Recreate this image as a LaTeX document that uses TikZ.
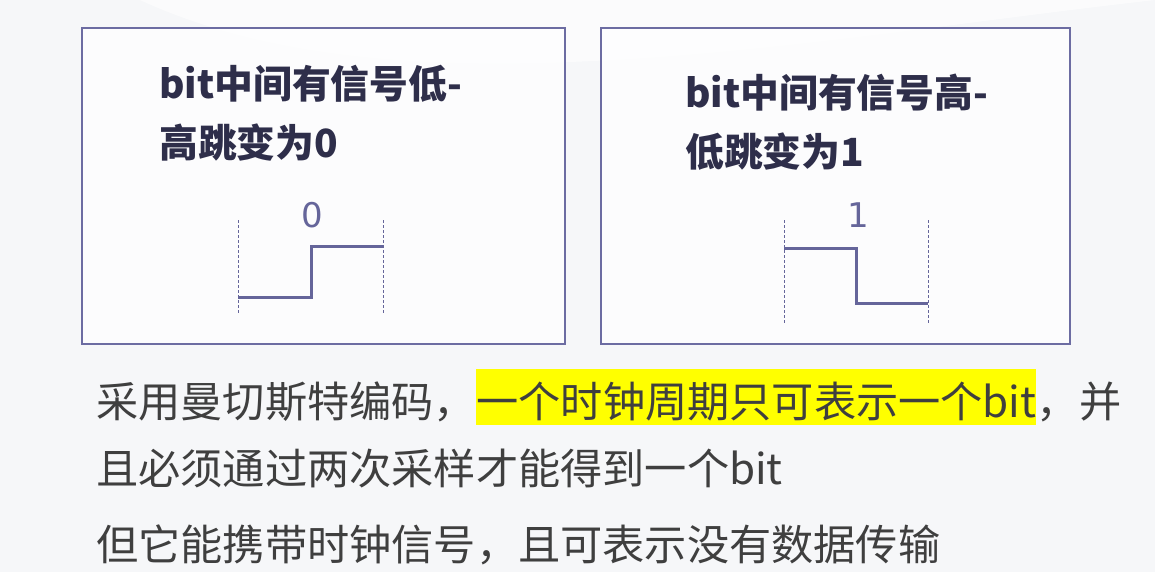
\documentclass[tikz,border=0pt]{standalone}
\usepackage{fontspec}
\newfontfamily\cjk{Noto Sans CJK SC}
\newfontfamily\labelfont{DejaVu Sans}
\usepackage{xcolor}
\usetikzlibrary{positioning}

\definecolor{bgc}{HTML}{F6F7F9}
\definecolor{boxc}{HTML}{6C6CA2}
\definecolor{wavec}{HTML}{65659A}
\definecolor{titlec}{HTML}{2E2E4A}
\definecolor{bodyc}{HTML}{3F3F3F}
\definecolor{hl}{HTML}{FFFF00}

\begin{document}
\begin{tikzpicture}[x=1pt, y=-1pt,
    frame/.style={draw=boxc, line width=1.2pt, fill=white, fill opacity=0.75},
    title/.style={anchor=base west, inner sep=0pt, text=titlec, font=\cjk\bfseries\fontsize{38.8}{38.8}\selectfont},
    body/.style={anchor=base west, inner sep=0pt, text=bodyc, font=\cjk\fontsize{42.2}{42.2}\selectfont},
    level/.style={draw=wavec, line width=3pt},
    guide/.style={draw=wavec, line width=0.8pt, dash pattern=on 3pt off 2pt},
    bitlabel/.style={text=wavec, inner sep=0pt, font=\labelfont\fontsize{34}{34}\selectfont}]
    % Background
    \useasboundingbox (0,0) rectangle (1155,572);
    \fill[bgc] (0,0) rectangle (1155,572);
    \fill[white, opacity=0.6] (140,0) .. controls (400,120) and (800,40) .. (1155,0) -- cycle;

    % Draw frames
    \draw[frame] (82,28) rectangle (565,344);
    \draw[frame] (601,28) rectangle (1070,344);

    % Titles
    \node[title] (zeroA) at (159,99) {bit中间有信号低-};
    \node[title] (zeroB) at (159,158) {高跳变为0};
    \node[title] (oneA) at (685,108) {bit中间有信号高-};
    \node[title] (oneB) at (685,167) {低跳变为1};

    % Bit 0: low to high
    \draw[guide] (238,220) -- (238,313);
    \draw[guide] (383,220) -- (383,313);
    \draw[level] (238,297) -- (311,297) -- (311,246) -- (383,246);
    \node[bitlabel] (zero) at (312,215) {0};

    % Bit 1: high to low
    \draw[guide] (784,220) -- (784,323);
    \draw[guide] (928,220) -- (928,323);
    \draw[level] (784,248) -- (856,248) -- (856,303) -- (928,303);
    \node[bitlabel] (one) at (858,215) {1};

    % Notes
    \node[body] (noteA) at (96,417) {采用曼切斯特编码，};
    \node[body, fill=hl, text height=48pt, text depth=8pt] (noteB) at (noteA.base east) {一个时钟周期只可表示一个bit};
    \node[body] (noteC) at (noteB.base east) {，并};
    \node[body] (noteD) at (96,484) {且必须通过两次采样才能得到一个bit};
    \node[body] (noteE) at (96,560) {但它能携带时钟信号，且可表示没有数据传输};
\end{tikzpicture}
\end{document}
